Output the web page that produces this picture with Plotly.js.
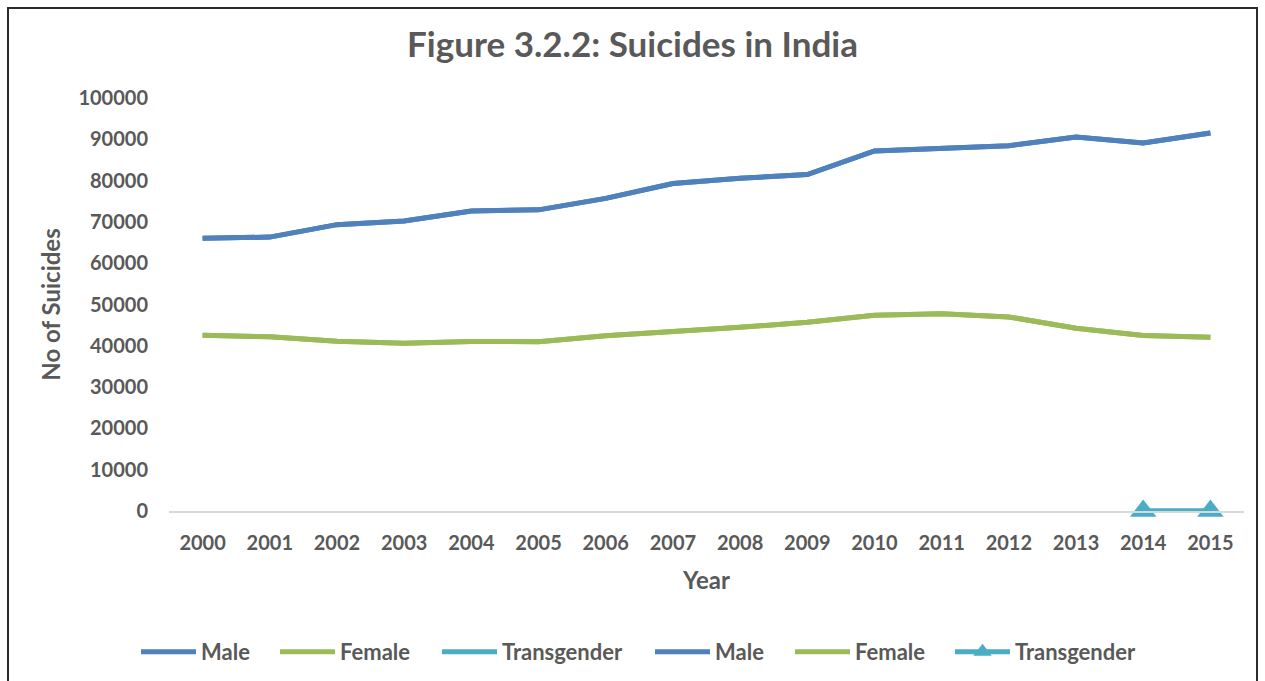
<!DOCTYPE html>
<html>
<head>
<meta charset="utf-8">
<script src="https://cdn.plot.ly/plotly-3.0.1.min.js"></script>
<style>
html,body{margin:0;padding:0;background:#fff;overflow:hidden;}
#frame{position:absolute;left:7px;top:7px;width:1251px;height:720px;border:2px solid #2b2b2b;box-sizing:border-box;}
#chart{position:absolute;left:0;top:0;width:1265px;height:681px;}
</style>
</head>
<body>
<div id="frame"></div>
<div id="chart"></div>
<script>
const years = [2000,2001,2002,2003,2004,2005,2006,2007,2008,2009,2010,2011,2012,2013,2014,2015];
const male = [66032,66314,69332,70221,72651,72916,75702,79295,80544,81471,87180,87839,88453,90543,89129,91528];
const female = [42561,42192,41085,40630,41046,40998,42410,43342,44473,45680,47419,47746,46992,44256,42521,42088];
const transgender = [null,null,null,null,null,null,null,null,null,null,null,null,null,null,18,7];
const yTicks = [0,10000,20000,30000,40000,50000,60000,70000,80000,90000,100000];
const colors = {Male:'#4F81BD', Female:'#9BBB59', Transgender:'#4BACC6'};

const grey = '#595959';
const font = 'Lato, "Open Sans", sans-serif';
const legendFont = {size: 22, color: grey, family: font, weight: 'bold'};
// left edge (px) of each legend entry, in order
const legendLeft = [136, 275, 437, 650, 790, 950];

function lineTrace(name, ys, withMarker, idx){
  const t = {
    x: years, y: ys, name: name, type: 'scatter',
    mode: withMarker ? 'lines+markers' : 'lines',
    connectgaps: false, cliponaxis: false,
    line: {color: colors[name], width: 5},
    legend: idx === 0 ? 'legend' : 'legend' + (idx + 1)
  };
  if (withMarker) t.marker = {symbol:'triangle-up', size: 23, color: colors[name], line: {width: 0}};
  return t;
}
const data = [
  lineTrace('Male', male, false, 0),
  lineTrace('Female', female, false, 1),
  lineTrace('Transgender', transgender, false, 2),
  lineTrace('Male', male, false, 3),
  lineTrace('Female', female, false, 4),
  lineTrace('Transgender', transgender, true, 5)
];

const layout = {
  width: 1265, height: 681,
  margin: {l: 169, r: 21, t: 98, b: 170},
  paper_bgcolor: 'rgba(0,0,0,0)',
  plot_bgcolor: 'rgba(0,0,0,0)',
  font: {family: font, color: grey},
  title: {text: 'Figure 3.2.2: Suicides in India', x: 0.5, xanchor: 'center', y: 1 - 45/681, yanchor: 'middle',
          font: {size: 35, color: grey, family: font, weight: 'bold'}},
  xaxis: {
    type: 'linear', range: [1999.5, 2015.5], tickmode: 'array', tickvals: years, ticktext: years.map(String),
    showgrid: false, zeroline: false, showline: true, linecolor: '#D9D9D9', linewidth: 1.5,
    ticks: '', ticklabelstandoff: 13,
    tickfont: {size: 20, color: grey, family: font, weight: 'bold'},
    title: {text: 'Year', font: {size: 24, color: grey, family: font, weight: 'bold'}, standoff: 19}
  },
  yaxis: {
    range: [0, 100000], tickmode: 'array', tickvals: yTicks, ticktext: yTicks.map(String),
    showgrid: false, zeroline: false, showline: false, ticks: '', ticklabelstandoff: 20,
    tickfont: {size: 20, color: grey, family: font, weight: 'bold'},
    title: {text: 'No of Suicides', font: {size: 24, color: grey, family: font, weight: 'bold'}, standoff: 10}
  },
  showlegend: true
};
legendLeft.forEach((px, i) => {
  const key = i === 0 ? 'legend' : 'legend' + (i + 1);
  layout[key] = {
    orientation: 'h', x: px / 1265, xanchor: 'left', xref: 'container',
    y: 1 - 652/681, yanchor: 'middle', yref: 'container',
    font: legendFont, itemclick: false, itemwidth: 55, bgcolor: 'rgba(0,0,0,0)'
  };
});
Plotly.newPlot('chart', data, layout, {staticPlot: true, displayModeBar: false});
</script>
</body>
</html>
